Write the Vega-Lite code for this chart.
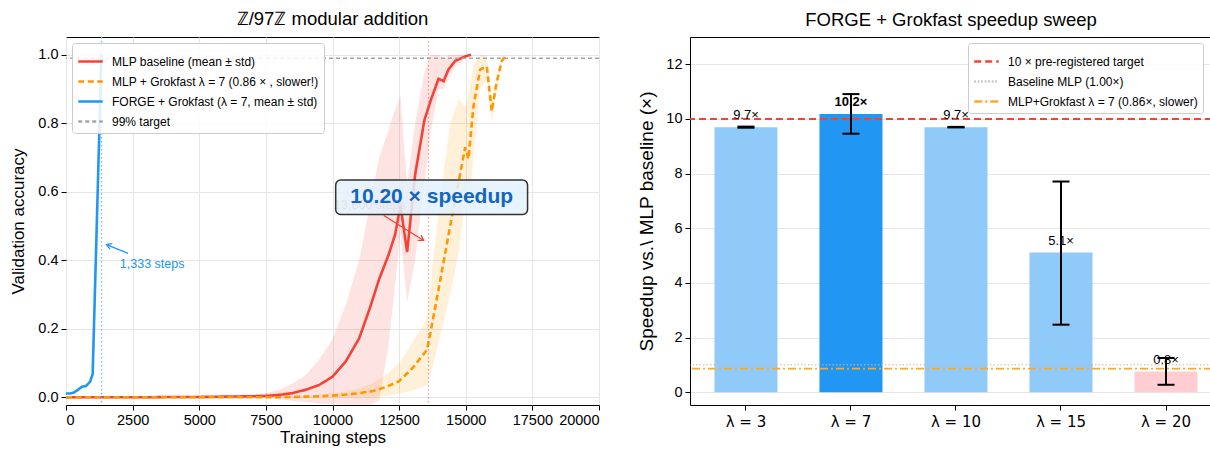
{
  "$schema": "https://vega.github.io/schema/vega-lite/v6.json",
  "padding": {"left": 9, "top": 9, "right": 0, "bottom": 0},
  "spacing": 36,
  "background": "white",
  "resolve": {
    "scale": {"color": "independent", "strokeDash": "independent", "fill": "independent"},
    "legend": {"color": "independent", "strokeDash": "independent", "fill": "independent"}
  },
  "config": {
    "font": "Liberation Sans",
    "view": {"stroke": "#000", "strokeWidth": 1},
    "axis": {
      "labelFont": "Liberation Sans", "labelFontSize": 14.5, "labelColor": "#000",
      "tickColor": "#000", "tickSize": 5, "tickWidth": 1, "labelPadding": 3,
      "titleFont": "Liberation Sans", "titleFontSize": 17, "titleFontWeight": "normal", "titleColor": "#000",
      "gridColor": "#e6e6e6", "gridWidth": 1, "domain": false, "labelOverlap": false
    },
    "title": {"font": "Liberation Sans", "fontSize": 18.5, "fontWeight": "normal", "color": "#000", "offset": 8},
    "legend": {
      "labelFont": "Liberation Sans", "labelFontSize": 12, "labelColor": "#000", "labelLimit": 400,
      "symbolType": "stroke", "symbolSize": 600, "symbolStrokeWidth": 2.5,
      "rowPadding": -9, "labelOffset": 8, "padding": 5,
      "fillColor": "rgba(255,255,255,0.85)", "strokeColor": "#cccccc", "cornerRadius": 3
    }
  },
  "datasets": {
    "curves": [
      {"series": "FORGE + Grokfast (λ = 7, mean ± std)", "step": 0, "mean": 0.011, "lo": 0.011, "hi": 0.011},
      {"series": "FORGE + Grokfast (λ = 7, mean ± std)", "step": 150, "mean": 0.011, "lo": 0.011, "hi": 0.011},
      {"series": "FORGE + Grokfast (λ = 7, mean ± std)", "step": 300, "mean": 0.014, "lo": 0.014, "hi": 0.014},
      {"series": "FORGE + Grokfast (λ = 7, mean ± std)", "step": 450, "mean": 0.022, "lo": 0.022, "hi": 0.022},
      {"series": "FORGE + Grokfast (λ = 7, mean ± std)", "step": 600, "mean": 0.031, "lo": 0.031, "hi": 0.031},
      {"series": "FORGE + Grokfast (λ = 7, mean ± std)", "step": 750, "mean": 0.033, "lo": 0.033, "hi": 0.033},
      {"series": "FORGE + Grokfast (λ = 7, mean ± std)", "step": 900, "mean": 0.045, "lo": 0.045, "hi": 0.045},
      {"series": "FORGE + Grokfast (λ = 7, mean ± std)", "step": 1000, "mean": 0.067, "lo": 0.067, "hi": 0.067},
      {"series": "FORGE + Grokfast (λ = 7, mean ± std)", "step": 1330, "mean": 1.0, "lo": 1.0, "hi": 1.0},

      {"series": "MLP baseline (mean ± std)", "step": 0, "mean": 0.0, "lo": 0.0, "hi": 0.0},
      {"series": "MLP baseline (mean ± std)", "step": 1000, "mean": 0.0, "lo": 0.0, "hi": 0.0},
      {"series": "MLP baseline (mean ± std)", "step": 2000, "mean": 0.0, "lo": 0.0, "hi": 0.0},
      {"series": "MLP baseline (mean ± std)", "step": 3000, "mean": 0.0, "lo": 0.0, "hi": 0.001},
      {"series": "MLP baseline (mean ± std)", "step": 4000, "mean": 0.001, "lo": 0.0, "hi": 0.002},
      {"series": "MLP baseline (mean ± std)", "step": 5000, "mean": 0.001, "lo": 0.0, "hi": 0.003},
      {"series": "MLP baseline (mean ± std)", "step": 6000, "mean": 0.002, "lo": 0.0, "hi": 0.004},
      {"series": "MLP baseline (mean ± std)", "step": 7000, "mean": 0.003, "lo": 0.0, "hi": 0.008},
      {"series": "MLP baseline (mean ± std)", "step": 7500, "mean": 0.004, "lo": -0.002, "hi": 0.012},
      {"series": "MLP baseline (mean ± std)", "step": 8000, "mean": 0.007, "lo": -0.005, "hi": 0.022},
      {"series": "MLP baseline (mean ± std)", "step": 8500, "mean": 0.012, "lo": -0.01, "hi": 0.04},
      {"series": "MLP baseline (mean ± std)", "step": 9000, "mean": 0.022, "lo": -0.014, "hi": 0.065},
      {"series": "MLP baseline (mean ± std)", "step": 9500, "mean": 0.036, "lo": -0.018, "hi": 0.11},
      {"series": "MLP baseline (mean ± std)", "step": 10000, "mean": 0.06, "lo": -0.02, "hi": 0.17},
      {"series": "MLP baseline (mean ± std)", "step": 10500, "mean": 0.105, "lo": -0.022, "hi": 0.27},
      {"series": "MLP baseline (mean ± std)", "step": 11000, "mean": 0.172, "lo": -0.022, "hi": 0.4},
      {"series": "MLP baseline (mean ± std)", "step": 11400, "mean": 0.26, "lo": -0.022, "hi": 0.56},
      {"series": "MLP baseline (mean ± std)", "step": 11750, "mean": 0.345, "lo": -0.01, "hi": 0.7},
      {"series": "MLP baseline (mean ± std)", "step": 12100, "mean": 0.415, "lo": 0.15, "hi": 0.78},
      {"series": "MLP baseline (mean ± std)", "step": 12350, "mean": 0.475, "lo": 0.33, "hi": 0.84},
      {"series": "MLP baseline (mean ± std)", "step": 12550, "mean": 0.56, "lo": 0.48, "hi": 0.88},
      {"series": "MLP baseline (mean ± std)", "step": 12800, "mean": 0.424, "lo": 0.28, "hi": 0.62},
      {"series": "MLP baseline (mean ± std)", "step": 13100, "mean": 0.65, "lo": 0.4, "hi": 0.8},
      {"series": "MLP baseline (mean ± std)", "step": 13450, "mean": 0.81, "lo": 0.63, "hi": 0.95},
      {"series": "MLP baseline (mean ± std)", "step": 13700, "mean": 0.87, "lo": 0.78, "hi": 1.0},
      {"series": "MLP baseline (mean ± std)", "step": 13980, "mean": 0.93, "lo": 0.9, "hi": 1.0},
      {"series": "MLP baseline (mean ± std)", "step": 14170, "mean": 0.923, "lo": 0.9, "hi": 0.99},
      {"series": "MLP baseline (mean ± std)", "step": 14350, "mean": 0.957, "lo": 0.93, "hi": 1.0},
      {"series": "MLP baseline (mean ± std)", "step": 14600, "mean": 0.982, "lo": 0.965, "hi": 1.0},
      {"series": "MLP baseline (mean ± std)", "step": 15000, "mean": 0.996, "lo": 0.99, "hi": 1.0},
      {"series": "MLP baseline (mean ± std)", "step": 15200, "mean": 1.0, "lo": 1.0, "hi": 1.0},

      {"series": "MLP + Grokfast λ = 7 (0.86 × , slower!)", "step": 0, "mean": 0.0, "lo": 0.0, "hi": 0.0},
      {"series": "MLP + Grokfast λ = 7 (0.86 × , slower!)", "step": 2000, "mean": 0.0, "lo": 0.0, "hi": 0.0},
      {"series": "MLP + Grokfast λ = 7 (0.86 × , slower!)", "step": 4000, "mean": 0.0, "lo": 0.0, "hi": 0.0},
      {"series": "MLP + Grokfast λ = 7 (0.86 × , slower!)", "step": 6000, "mean": 0.0, "lo": 0.0, "hi": 0.001},
      {"series": "MLP + Grokfast λ = 7 (0.86 × , slower!)", "step": 8000, "mean": 0.0, "lo": 0.0, "hi": 0.002},
      {"series": "MLP + Grokfast λ = 7 (0.86 × , slower!)", "step": 8500, "mean": 0.001, "lo": 0.0, "hi": 0.003},
      {"series": "MLP + Grokfast λ = 7 (0.86 × , slower!)", "step": 9000, "mean": 0.002, "lo": 0.0, "hi": 0.005},
      {"series": "MLP + Grokfast λ = 7 (0.86 × , slower!)", "step": 9500, "mean": 0.003, "lo": 0.0, "hi": 0.008},
      {"series": "MLP + Grokfast λ = 7 (0.86 × , slower!)", "step": 10000, "mean": 0.005, "lo": 0.0, "hi": 0.012},
      {"series": "MLP + Grokfast λ = 7 (0.86 × , slower!)", "step": 10500, "mean": 0.008, "lo": 0.0, "hi": 0.018},
      {"series": "MLP + Grokfast λ = 7 (0.86 × , slower!)", "step": 11000, "mean": 0.012, "lo": 0.0, "hi": 0.026},
      {"series": "MLP + Grokfast λ = 7 (0.86 × , slower!)", "step": 11500, "mean": 0.018, "lo": 0.0, "hi": 0.04},
      {"series": "MLP + Grokfast λ = 7 (0.86 × , slower!)", "step": 12000, "mean": 0.03, "lo": 0.004, "hi": 0.065},
      {"series": "MLP + Grokfast λ = 7 (0.86 × , slower!)", "step": 12500, "mean": 0.047, "lo": 0.01, "hi": 0.1},
      {"series": "MLP + Grokfast λ = 7 (0.86 × , slower!)", "step": 13000, "mean": 0.085, "lo": 0.02, "hi": 0.16},
      {"series": "MLP + Grokfast λ = 7 (0.86 × , slower!)", "step": 13550, "mean": 0.139, "lo": 0.035, "hi": 0.23},
      {"series": "MLP + Grokfast λ = 7 (0.86 × , slower!)", "step": 13800, "mean": 0.24, "lo": 0.1, "hi": 0.42},
      {"series": "MLP + Grokfast λ = 7 (0.86 × , slower!)", "step": 14100, "mean": 0.366, "lo": 0.2, "hi": 0.62},
      {"series": "MLP + Grokfast λ = 7 (0.86 × , slower!)", "step": 14420, "mean": 0.502, "lo": 0.3, "hi": 0.8},
      {"series": "MLP + Grokfast λ = 7 (0.86 × , slower!)", "step": 14730, "mean": 0.628, "lo": 0.42, "hi": 0.87},
      {"series": "MLP + Grokfast λ = 7 (0.86 × , slower!)", "step": 14980, "mean": 0.73, "lo": 0.58, "hi": 0.85},
      {"series": "MLP + Grokfast λ = 7 (0.86 × , slower!)", "step": 15100, "mean": 0.696, "lo": 0.55, "hi": 0.88},
      {"series": "MLP + Grokfast λ = 7 (0.86 × , slower!)", "step": 15290, "mean": 0.85, "lo": 0.7, "hi": 0.97},
      {"series": "MLP + Grokfast λ = 7 (0.86 × , slower!)", "step": 15540, "mean": 0.957, "lo": 0.9, "hi": 1.0},
      {"series": "MLP + Grokfast λ = 7 (0.86 × , slower!)", "step": 15790, "mean": 0.966, "lo": 0.93, "hi": 1.0},
      {"series": "MLP + Grokfast λ = 7 (0.86 × , slower!)", "step": 15975, "mean": 0.835, "lo": 0.8, "hi": 0.87},
      {"series": "MLP + Grokfast λ = 7 (0.86 × , slower!)", "step": 16160, "mean": 0.919, "lo": 0.9, "hi": 0.94},
      {"series": "MLP + Grokfast λ = 7 (0.86 × , slower!)", "step": 16350, "mean": 0.982, "lo": 0.975, "hi": 0.99},
      {"series": "MLP + Grokfast λ = 7 (0.86 × , slower!)", "step": 16540, "mean": 1.0, "lo": 1.0, "hi": 1.0}
    ],
    "bars": [
      {"lam": "λ = 3", "v": 9.7, "lo": 9.68, "hi": 9.72, "label": "9.7×", "kind": "other"},
      {"lam": "λ = 7", "v": 10.18, "lo": 9.46, "hi": 10.91, "label": "10.2×", "kind": "best"},
      {"lam": "λ = 10", "v": 9.7, "lo": 9.69, "hi": 9.71, "label": "9.7×", "kind": "other"},
      {"lam": "λ = 15", "v": 5.11, "lo": 2.47, "hi": 7.71, "label": "5.1×", "kind": "other"},
      {"lam": "λ = 20", "v": 0.76, "lo": 0.27, "hi": 1.25, "label": "0.8×", "kind": "slower"}
    ],
    "refs": [
      {"name": "10 ×  pre-registered target", "y": 10},
      {"name": "Baseline MLP (1.00×)", "y": 1.0},
      {"name": "MLP+Grokfast λ = 7 (0.86×, slower)", "y": 0.86}
    ]
  },
  "hconcat": [
    {
      "width": 533,
      "height": 368,
      "title": {"text": "ℤ/97ℤ modular addition"},
      "layer": [
        {
          "data": {"name": "curves"},
          "transform": [{"filter": "datum.series !== 'FORGE + Grokfast (λ = 7, mean ± std)'"}],
          "mark": {"type": "area", "fillOpacity": 0.15, "clip": true},
          "encoding": {
            "x": {"field": "step", "type": "quantitative",
                  "scale": {"domain": [0, 20000], "nice": false, "zero": false},
                  "axis": {"title": "Training steps", "values": [0, 2500, 5000, 7500, 10000, 12500, 15000, 17500, 20000], "format": "d", "grid": true, "titlePadding": 3}},
            "y": {"field": "lo", "type": "quantitative",
                  "scale": {"domain": [-0.0225, 1.052], "nice": false, "zero": false},
                  "axis": {"title": "Validation accuracy", "values": [0, 0.2, 0.4, 0.6, 0.8, 1.0], "format": ".1f", "grid": true, "titlePadding": 10}},
            "y2": {"field": "hi"},
            "fill": {"field": "series", "type": "nominal",
                     "scale": {"domain": ["MLP baseline (mean ± std)", "MLP + Grokfast λ = 7 (0.86 × , slower!)"], "range": ["#F44336", "#FF9800"]},
                     "legend": null}
          }
        },
        {
          "data": {"name": "curves"},
          "mark": {"type": "line", "strokeWidth": 2.6, "clip": true},
          "encoding": {
            "x": {"field": "step", "type": "quantitative"},
            "y": {"field": "mean", "type": "quantitative"},
            "color": {"field": "series", "type": "nominal",
                      "scale": {"domain": ["MLP baseline (mean ± std)", "MLP + Grokfast λ = 7 (0.86 × , slower!)", "FORGE + Grokfast (λ = 7, mean ± std)", "99% target"],
                                "range": ["#F44336", "#FF9800", "#2196F3", "#A6A6A6"]},
                      "legend": {"title": null, "orient": "top-left", "offset": 6}},
            "strokeDash": {"field": "series", "type": "nominal",
                      "scale": {"domain": ["MLP baseline (mean ± std)", "MLP + Grokfast λ = 7 (0.86 × , slower!)", "FORGE + Grokfast (λ = 7, mean ± std)", "99% target"],
                                "range": [[1, 0], [6, 3.5], [1, 0], [4, 3]]},
                      "legend": {"title": null, "orient": "top-left", "offset": 6}}
          }
        },
        {
          "data": {"values": [{"series": "99% target", "acc": 0.99}]},
          "mark": {"type": "rule", "strokeWidth": 1.3},
          "encoding": {
            "y": {"field": "acc", "type": "quantitative"},
            "color": {"field": "series", "type": "nominal"},
            "strokeDash": {"field": "series", "type": "nominal"}
          }
        },
        {
          "data": {"values": [{"step": 1333}]},
          "mark": {"type": "rule", "color": "#64B5F6", "opacity": 0.9, "strokeDash": [1.5, 2.5], "strokeWidth": 1.4},
          "encoding": {"x": {"field": "step", "type": "quantitative"}}
        },
        {
          "data": {"values": [{"step": 13600}]},
          "mark": {"type": "rule", "color": "#F44336", "opacity": 0.5, "strokeDash": [1.5, 2.5], "strokeWidth": 1.3},
          "encoding": {"x": {"field": "step", "type": "quantitative"}}
        },
        {
          "data": {"values": [{"step": 2330, "acc": 0.42, "step2": 1520, "acc2": 0.446}]},
          "mark": {"type": "rule", "color": "#2196F3", "strokeWidth": 1.3},
          "encoding": {
            "x": {"field": "step", "type": "quantitative"},
            "y": {"field": "acc", "type": "quantitative"},
            "x2": {"field": "step2"},
            "y2": {"field": "acc2"}
          }
        },
        {
          "data": {"values": [{"step": 1520, "acc": 0.446}]},
          "mark": {"type": "point", "shape": "M-1,-0.6L0,0L-1,0.6", "filled": false, "stroke": "#2196F3", "strokeWidth": 1.3, "size": 100, "angle": 202.6, "opacity": 1},
          "encoding": {
            "x": {"field": "step", "type": "quantitative"},
            "y": {"field": "acc", "type": "quantitative"}
          }
        },
        {
          "data": {"values": [{"step": 2020, "acc": 0.39, "label": "1,333 steps"}]},
          "mark": {"type": "text", "color": "#2196F3", "fontSize": 12.5, "align": "left", "baseline": "middle"},
          "encoding": {
            "x": {"field": "step", "type": "quantitative"},
            "y": {"field": "acc", "type": "quantitative"},
            "text": {"field": "label"}
          }
        },
        {
          "data": {"values": [{"step": 10060, "acc": 0.561, "label": "13,600 steps"}]},
          "mark": {"type": "text", "color": "#F44336", "opacity": 0.8, "fontSize": 12.5, "align": "left", "baseline": "middle"},
          "encoding": {
            "x": {"field": "step", "type": "quantitative"},
            "y": {"field": "acc", "type": "quantitative"},
            "text": {"field": "label"}
          }
        },
        {
          "data": {"values": [{"step": 11925, "acc": 0.531, "step2": 13420, "acc2": 0.458}]},
          "mark": {"type": "rule", "color": "#F44336", "strokeWidth": 1.3},
          "encoding": {
            "x": {"field": "step", "type": "quantitative"},
            "y": {"field": "acc", "type": "quantitative"},
            "x2": {"field": "step2"},
            "y2": {"field": "acc2"}
          }
        },
        {
          "data": {"values": [{"step": 13420, "acc": 0.458}]},
          "mark": {"type": "point", "shape": "M-1,-0.6L0,0L-1,0.6", "filled": false, "stroke": "#F44336", "strokeWidth": 1.3, "size": 100, "angle": 32, "opacity": 1},
          "encoding": {
            "x": {"field": "step", "type": "quantitative"},
            "y": {"field": "acc", "type": "quantitative"}
          }
        },
        {
          "data": {"values": [{"step": 10120, "acc": 0.6346, "step2": 17320, "acc2": 0.534}]},
          "mark": {"type": "rect", "fill": "#E3F2FD", "fillOpacity": 0.85, "stroke": "#333333", "strokeWidth": 1.5, "cornerRadius": 5},
          "encoding": {
            "x": {"field": "step", "type": "quantitative"},
            "y": {"field": "acc", "type": "quantitative"},
            "x2": {"field": "step2"},
            "y2": {"field": "acc2"}
          }
        },
        {
          "data": {"values": [{"step": 13720, "acc": 0.584, "label": "10.20 ×  speedup"}]},
          "mark": {"type": "text", "color": "#1565C0", "fontSize": 21, "fontWeight": "bold", "align": "center", "baseline": "middle"},
          "encoding": {
            "x": {"field": "step", "type": "quantitative"},
            "y": {"field": "acc", "type": "quantitative"},
            "text": {"field": "label"}
          }
        }
      ]
    },
    {
      "width": 522,
      "height": 368,
      "title": {"text": "FORGE + Grokfast speedup sweep"},
      "view": {"stroke": null},
      "resolve": {"axis": {"x": "independent"}},
      "layer": [
        {
          "data": {"name": "bars"},
          "mark": {"type": "bar"},
          "encoding": {
            "x": {"field": "lam", "type": "nominal", "sort": null,
                  "scale": {"paddingInner": 0.4, "paddingOuter": 0.1855, "align": 0.628},
                  "axis": {"title": null, "labelAngle": 0, "labelFont": "DejaVu Sans", "labelFontSize": 15, "domain": true, "domainColor": "#000", "grid": false, "labelPadding": 4}},
            "y": {"field": "v", "type": "quantitative",
                  "scale": {"domain": [-0.47, 13.0], "nice": false, "zero": false},
                  "axis": {"title": "Speedup vs.\\ MLP baseline (×)", "values": [0, 2, 4, 6, 8, 10, 12], "format": "d", "grid": true, "domain": true, "domainColor": "#000", "titleFontSize": 19, "titlePadding": 9}},
            "y2": {"datum": 0},
            "fill": {"field": "kind", "type": "nominal",
                     "scale": {"domain": ["best", "other", "slower"], "range": ["#2196F3", "#90CAF9", "#FFCDD2"]},
                     "legend": null}
          }
        },
        {
          "data": {"name": "refs"},
          "transform": [{"filter": "datum.y === 10"}],
          "mark": {"type": "rule", "strokeWidth": 2},
          "encoding": {
            "y": {"field": "y", "type": "quantitative"},
            "color": {"field": "name", "type": "nominal",
                      "scale": {"domain": ["10 ×  pre-registered target", "Baseline MLP (1.00×)", "MLP+Grokfast λ = 7 (0.86×, slower)"], "range": ["#F44336", "#BDBDBD", "#FFA726"]},
                      "legend": {"title": null, "orient": "none", "legendX": 278, "legendY": 6}},
            "strokeDash": {"field": "name", "type": "nominal",
                      "scale": {"domain": ["10 ×  pre-registered target", "Baseline MLP (1.00×)", "MLP+Grokfast λ = 7 (0.86×, slower)"], "range": [[7, 4], [1.5, 2], [8, 3, 2, 3]]},
                      "legend": {"title": null, "orient": "none", "legendX": 278, "legendY": 6}}
          }
        },
        {
          "data": {"name": "refs"},
          "transform": [{"filter": "datum.y === 1"}],
          "mark": {"type": "rule", "strokeWidth": 1},
          "encoding": {
            "y": {"field": "y", "type": "quantitative"},
            "color": {"field": "name", "type": "nominal"},
            "strokeDash": {"field": "name", "type": "nominal"}
          }
        },
        {
          "data": {"name": "refs"},
          "transform": [{"filter": "datum.y === 0.86"}],
          "mark": {"type": "rule", "strokeWidth": 1.6},
          "encoding": {
            "y": {"field": "y", "type": "quantitative"},
            "color": {"field": "name", "type": "nominal"},
            "strokeDash": {"field": "name", "type": "nominal"}
          }
        },
        {
          "data": {"name": "bars"},
          "mark": {"type": "rule", "color": "#000", "strokeWidth": 2},
          "encoding": {
            "x": {"field": "lam", "type": "nominal", "sort": null, "axis": null},
            "y": {"field": "lo", "type": "quantitative"},
            "y2": {"field": "hi"}
          }
        },
        {
          "data": {"name": "bars"},
          "mark": {"type": "tick", "color": "#000", "thickness": 2, "size": 17, "orient": "horizontal", "opacity": 1},
          "encoding": {
            "x": {"field": "lam", "type": "nominal", "sort": null, "axis": null},
            "y": {"field": "lo", "type": "quantitative"}
          }
        },
        {
          "data": {"name": "bars"},
          "mark": {"type": "tick", "color": "#000", "thickness": 2, "size": 17, "orient": "horizontal", "opacity": 1},
          "encoding": {
            "x": {"field": "lam", "type": "nominal", "sort": null, "axis": null},
            "y": {"field": "hi", "type": "quantitative"}
          }
        },
        {
          "data": {"name": "bars"},
          "transform": [{"filter": "datum.kind !== 'best'"}],
          "mark": {"type": "text", "fontSize": 13, "color": "#000", "baseline": "middle", "align": "center", "dy": -11.7},
          "encoding": {
            "x": {"field": "lam", "type": "nominal", "sort": null,
                  "axis": {"orient": "top", "labels": false, "ticks": false, "domain": true, "domainColor": "#000", "grid": false, "title": null}},
            "y": {"field": "v", "type": "quantitative"},
            "text": {"field": "label"}
          }
        },
        {
          "data": {"name": "bars"},
          "transform": [{"filter": "datum.kind === 'best'"}],
          "mark": {"type": "text", "fontSize": 13, "fontWeight": "bold", "color": "#000", "baseline": "middle", "align": "center", "dy": -11.7},
          "encoding": {
            "x": {"field": "lam", "type": "nominal", "sort": null, "axis": null},
            "y": {"field": "v", "type": "quantitative"},
            "text": {"field": "label"}
          }
        }
      ]
    }
  ]
}
